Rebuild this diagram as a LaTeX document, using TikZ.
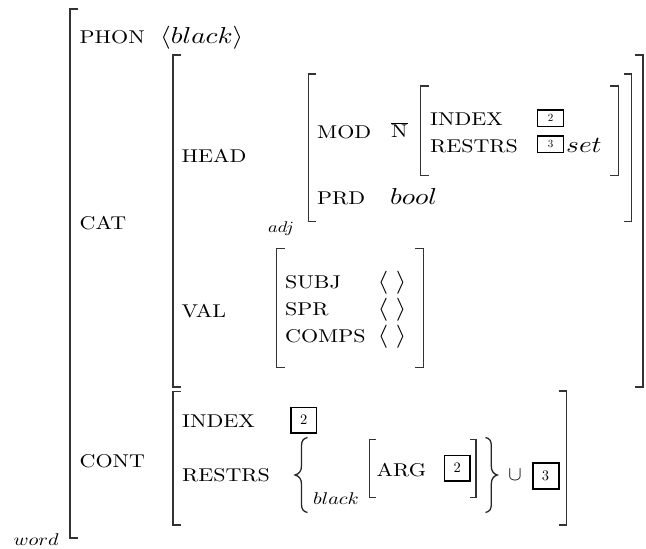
\RequirePackage{fix-cm}
\documentclass[tikz,border=0pt]{standalone}
\usepackage{graphicx}
\DeclareFontFamily{OT1}{cmten}{}
\DeclareFontShape{OT1}{cmten}{m}{n}{<->cmr10}{}
\DeclareFontShape{OML}{cmm}{m}{it}{<->cmmi10}{}
\DeclareFontShape{OMS}{cmsy}{m}{n}{<->cmsy10}{}
\DeclareFontShape{OT1}{cmr}{m}{n}{<->cmr10}{}
\newcommand{\rmten}{\fontencoding{OT1}\fontfamily{cmten}\fontseries{m}\fontshape{n}}
\newcommand{\W}[1]{\scalebox{1.19}[1]{#1}}
\newcommand{\LBr}[4]{\draw[brk] (#1+#4,#2) -- (#1,#2) -- (#1,#3) -- (#1+#4,#3);}
\newcommand{\RBr}[4]{\draw[brk] (#1-#4,#2) -- (#1,#2) -- (#1,#3) -- (#1-#4,#3);}
\begin{document}
\begin{tikzpicture}[x=1pt,y=-1pt,
  brk/.style={line width=1.1pt, black!80},
  brc/.style={line width=1.3pt, black!85},
  lab/.style={inner sep=0, anchor=base west, font=\rmten\fontsize{18.5}{22}\selectfont},
  mth/.style={inner sep=0, anchor=base west, font=\rmten\fontsize{23}{27}\selectfont},
  sml/.style={inner sep=0, anchor=base west, font=\rmten\fontsize{17}{20}\selectfont},
  tagbox/.style={draw, line width=1.5pt, inner sep=0, anchor=center},
]
\useasboundingbox (0,0) rectangle (646,549);

% brackets
\LBr{70}{9}{538}{8}
\LBr{173}{55}{387}{8}
\RBr{643}{55}{387}{8}
\LBr{308.3}{74}{221.7}{8}
\RBr{631.7}{74}{221.7}{8}
\LBr{420.5}{86}{175.5}{8}
\RBr{618.3}{86}{175.5}{8}
\LBr{276.7}{248.3}{367.3}{8}
\RBr{423.3}{248.3}{367.3}{8}
\LBr{173}{391.7}{525}{8}
\RBr{566.7}{391}{525}{8}
\LBr{369.5}{439.3}{497.3}{6}
\RBr{476}{439.3}{497.3}{6}

% top level
\node[lab] (phon) at (79.5,43) {\W{PHON}};
\node[mth] (phonv) at (160,43) {\W{$\langle black\rangle$}};
\node[lab] (cat) at (79.5,229) {\W{CAT}};
\node[lab] (cont) at (79.5,467) {\W{CONT}};
\node[sml] (word) at (13.5,545) {\W{$word$}};

% HEAD
\node[lab] (head) at (181.5,162) {\W{HEAD}};
\node[sml, font=\rmten\fontsize{15.5}{18}\selectfont] (adj) at (268,232) {\W{$adj$}};
\node[lab] (mod) at (317,138) {\W{MOD}};
\node[lab] (nbar) at (391,137) {\W{$\overline{\mathrm{N}}$}};
\node[lab] (prd) at (317,204) {\W{PRD}};
\node[mth] (bool) at (390,204) {\W{$bool$}};
\node[lab] (nidx) at (430,125) {\W{INDEX}};
\node[lab] (nres) at (430,152) {\W{RESTRS}};
\node[tagbox, minimum width=26pt, minimum height=16.5pt, font=\rmten\fontsize{11}{12}\selectfont] (t2a) at (550.5,118) {2};
\node[tagbox, minimum width=26pt, minimum height=16.5pt, font=\rmten\fontsize{11}{12}\selectfont] (t3a) at (550.5,144.2) {3};
\node[mth] (set) at (566,152) {\W{$set$}};

% VAL
\node[lab] (val) at (181.5,317) {\W{VAL}};
\node[lab] (subj) at (285,288) {\W{SUBJ}};
\node[lab] (spr) at (285,315.5) {\W{SPR}};
\node[lab] (comps) at (285,342.5) {\W{COMPS}};
\node[mth] (e1) at (377.5,288) {\W{$\langle\;\rangle$}};
\node[mth] (e2) at (377.5,315.5) {\W{$\langle\;\rangle$}};
\node[mth] (e3) at (377.5,342.5) {\W{$\langle\;\rangle$}};

% CONT
\node[lab] (cidx) at (182,427.7) {\W{INDEX}};
\node[tagbox, minimum size=25.5pt, font=\rmten\fontsize{14.5}{16}\selectfont] (t2b) at (303.7,420) {2};
\node[lab] (cres) at (182,481.7) {\W{RESTRS}};
\draw[brc] (307.5,437.5) .. controls (303,438.5) and (301.5,441) .. (301.5,446) -- (301.5,466)
  .. controls (301.5,471) and (299,474) .. (295,475)
  .. controls (299,476) and (301.5,479) .. (301.5,484) -- (301.5,504)
  .. controls (301.5,509) and (303,511.5) .. (307.5,512.5);
\node[sml] (blk) at (313,504) {\W{$black$}};
\node[lab] (arg) at (376.5,476.7) {\W{ARG}};
\node[tagbox, minimum size=25.5pt, font=\rmten\fontsize{14.5}{16}\selectfont] (t2c) at (457.3,468.3) {2};
\draw[brc] (485.5,437.5) .. controls (490,438.5) and (491.3,441) .. (491.3,446) -- (491.3,466)
  .. controls (491.3,471) and (493.5,474) .. (497.3,475)
  .. controls (493.5,476) and (491.3,479) .. (491.3,484) -- (491.3,504)
  .. controls (491.3,509) and (490,511.5) .. (485.5,512.5);
\node[inner sep=0, font=\rmten\fontsize{20}{24}\selectfont] (cup) at (515,474.5) {$\cup$};
\node[tagbox, line width=2pt, minimum size=26pt, font=\rmten\fontsize{14.5}{16}\selectfont] (t3b) at (545.5,475.5) {3};
\end{tikzpicture}
\end{document}
